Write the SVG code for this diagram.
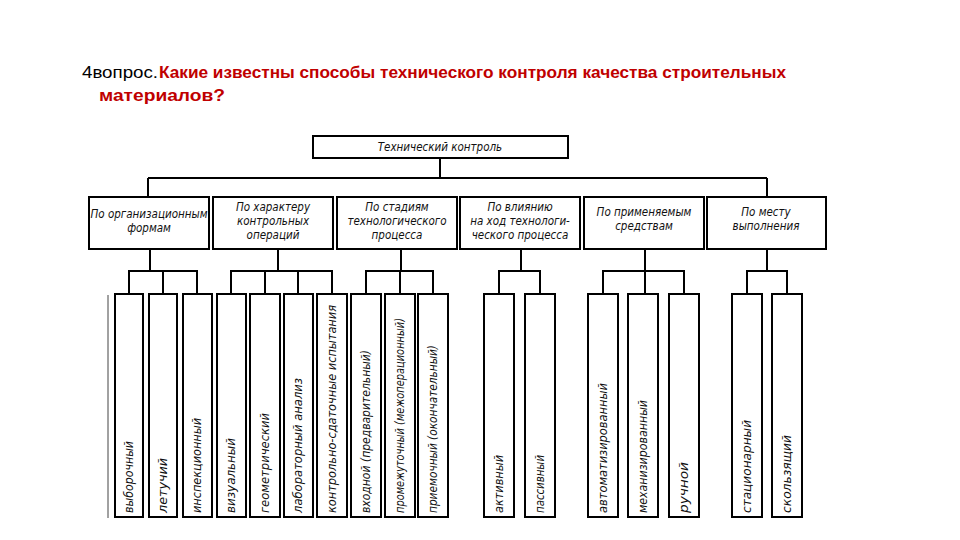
<svg xmlns="http://www.w3.org/2000/svg" width="960" height="540" viewBox="0 0 960 540">
<style>
.bx{fill:#fff;stroke:#000;stroke-width:2}
.ln{fill:none;stroke:#000;stroke-width:2}
.t{font-family:"Liberation Sans Narrow","DejaVu Sans Condensed","Liberation Sans",sans-serif;font-style:italic;font-size:11.5px;fill:#111;text-anchor:middle}
.v{font-family:"Liberation Sans Narrow","DejaVu Sans Condensed","Liberation Sans",sans-serif;font-style:italic;font-size:11.5px;fill:#111}
.h{font-family:"Liberation Sans","Open Sans",sans-serif;font-size:16px}
</style>
<rect width="960" height="540" fill="#fff"/>
<g id="title">
<text class="h" x="82" y="78" fill="#000" textLength="76" lengthAdjust="spacingAndGlyphs">4вопрос.</text>
<text class="h" x="159" y="78" fill="#c00000" font-weight="bold" textLength="627" lengthAdjust="spacingAndGlyphs">Какие известны способы технического контроля качества строительных</text>
<text class="h" x="99" y="101" fill="#c00000" font-weight="bold" textLength="126" lengthAdjust="spacingAndGlyphs">материалов?</text>
</g>
<g id="connectors">
<path class="ln" d="M440 158V178M148 178H767M148 178V197M767 178V197"/>
<path class="ln" d="M150 249V271M129 294V271H197V294M163 271V294"/>
<path class="ln" d="M278 249V271M231 294V271H332V294M265 271V294M298 271V294"/>
<path class="ln" d="M401 249V271M366 294V271H433V294M400 271V294"/>
<path class="ln" d="M521 249V271M499 294V271H540V294"/>
<path class="ln" d="M645 249V271M603 294V271H684V294M645 271V294"/>
<path class="ln" d="M767 249V271M747 294V271H787V294"/>
<path d="M108 295V518" stroke="#444" stroke-width="1" fill="none"/>
</g>
<g id="root"><rect class="bx" x="313" y="136" width="255" height="22"/><text class="t" x="440" y="151">Технический контроль</text></g>
<g id="c1"><rect class="bx" x="89" y="197" width="120" height="52"/><text class="t" x="149" y="218">По организационным</text><text class="t" x="149" y="232">формам</text></g>
<g id="c2"><rect class="bx" x="213" y="197" width="120" height="52"/><text class="t" x="273" y="211">По характеру</text><text class="t" x="273" y="225">контрольных</text><text class="t" x="273" y="239">операций</text></g>
<g id="c3"><rect class="bx" x="337" y="197" width="120" height="52"/><text class="t" x="397" y="211">По стадиям</text><text class="t" x="397" y="225">технологического</text><text class="t" x="397" y="239">процесса</text></g>
<g id="c4"><rect class="bx" x="460" y="197" width="120" height="52"/><text class="t" x="520" y="211">По влиянию</text><text class="t" x="520" y="225">на ход технологи-</text><text class="t" x="520" y="239">ческого процесса</text></g>
<g id="c5"><rect class="bx" x="584" y="197" width="120" height="52"/><text class="t" x="644" y="216">По применяемым</text><text class="t" x="644" y="230">средствам</text></g>
<g id="c6"><rect class="bx" x="707" y="197" width="119" height="52"/><text class="t" x="766" y="216">По месту</text><text class="t" x="766" y="230">выполнения</text></g>
<g id="a"><rect class="bx" x="115" y="294" width="28" height="223"/><text class="v" transform="translate(133 513) rotate(-90)" textLength="72" lengthAdjust="spacingAndGlyphs">выборочный</text></g>
<g id="b"><rect class="bx" x="149" y="294" width="28" height="223"/><text class="v" transform="translate(167 513) rotate(-90)" textLength="55" lengthAdjust="spacingAndGlyphs">летучий</text></g>
<g id="c"><rect class="bx" x="183" y="294" width="29" height="223"/><text class="v" transform="translate(201 513) rotate(-90)" textLength="95" lengthAdjust="spacingAndGlyphs">инспекционный</text></g>
<g id="d"><rect class="bx" x="217" y="294" width="29" height="223"/><text class="v" transform="translate(235 513) rotate(-90)" textLength="75" lengthAdjust="spacingAndGlyphs">визуальный</text></g>
<g id="e"><rect class="bx" x="250" y="294" width="30" height="223"/><text class="v" transform="translate(269 513) rotate(-90)" textLength="100" lengthAdjust="spacingAndGlyphs">геометрический</text></g>
<g id="f"><rect class="bx" x="284" y="294" width="29" height="223"/><text class="v" transform="translate(302 513) rotate(-90)" textLength="135" lengthAdjust="spacingAndGlyphs">лабораторный анализ</text></g>
<g id="g"><rect class="bx" x="317" y="294" width="30" height="223"/><text class="v" transform="translate(336 513) rotate(-90)" textLength="208" lengthAdjust="spacingAndGlyphs">контрольно-сдаточные испытания</text></g>
<g id="h"><rect class="bx" x="351" y="294" width="30" height="223"/><text class="v" transform="translate(370 513) rotate(-90)" textLength="163" lengthAdjust="spacingAndGlyphs">входной (предварительный)</text></g>
<g id="i"><rect class="bx" x="385" y="294" width="30" height="223"/><text class="v" transform="translate(404 513) rotate(-90)" textLength="195" lengthAdjust="spacingAndGlyphs">промежуточный (межоперационный)</text></g>
<g id="j"><rect class="bx" x="418" y="294" width="30" height="223"/><text class="v" transform="translate(437 513) rotate(-90)" textLength="168" lengthAdjust="spacingAndGlyphs">приемочный (окончательный)</text></g>
<g id="k"><rect class="bx" x="484" y="294" width="30" height="223"/><text class="v" transform="translate(503 513) rotate(-90)" textLength="58" lengthAdjust="spacingAndGlyphs">активный</text></g>
<g id="l"><rect class="bx" x="525" y="294" width="30" height="223"/><text class="v" transform="translate(544 513) rotate(-90)" textLength="58" lengthAdjust="spacingAndGlyphs">пассивный</text></g>
<g id="m"><rect class="bx" x="588" y="294" width="30" height="223"/><text class="v" transform="translate(607 513) rotate(-90)" textLength="130" lengthAdjust="spacingAndGlyphs">автоматизированный</text></g>
<g id="n"><rect class="bx" x="628" y="294" width="30" height="223"/><text class="v" transform="translate(647 513) rotate(-90)" textLength="113" lengthAdjust="spacingAndGlyphs">механизированный</text></g>
<g id="o"><rect class="bx" x="669" y="294" width="30" height="223"/><text class="v" transform="translate(688 513) rotate(-90)" textLength="51" lengthAdjust="spacingAndGlyphs">ручной</text></g>
<g id="p"><rect class="bx" x="732" y="294" width="30" height="223"/><text class="v" transform="translate(751 513) rotate(-90)" textLength="93" lengthAdjust="spacingAndGlyphs">стационарный</text></g>
<g id="q"><rect class="bx" x="772" y="294" width="30" height="223"/><text class="v" transform="translate(791 513) rotate(-90)" textLength="78" lengthAdjust="spacingAndGlyphs">скользящий</text></g>
</svg>
